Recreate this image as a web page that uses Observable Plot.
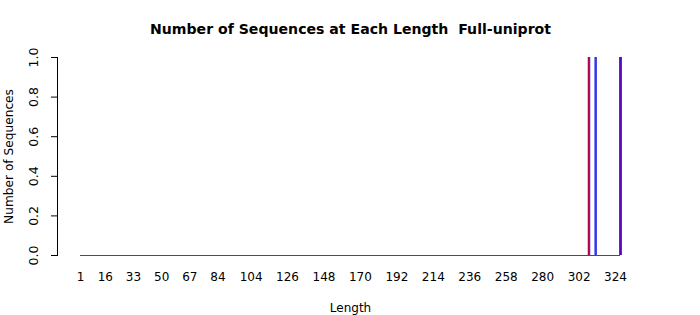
<!DOCTYPE html>
<html>
<head>
<meta charset="utf-8">
<script src="https://cdn.jsdelivr.net/npm/d3@7"></script>
<script src="https://cdn.jsdelivr.net/npm/@observablehq/plot@0.6"></script>
<style>
  html, body { margin: 0; padding: 0; background: #fff; }
  svg { font-family: "DejaVu Sans", sans-serif; }
</style>
</head>
<body>
<div id="chart"></div>
<script>
const titleText = "Number of Sequences at Each Length  Full-uniprot";
const yLabel = "Number of Sequences";
const xLabel = "Length";
const lengthRange = [1, 327];
const xTickLabels = [1, 16, 33, 50, 67, 84, 104, 126, 148, 170, 192, 214, 236, 258, 280, 302, 324];
const yTicks = [0, 0.2, 0.4, 0.6, 0.8, 1.0];
// series 1 (blue): lengths with one sequence
const blueLengths = [308, 312, 327];
const blueCounts = [1, 1, 1];
// series 2 (red): lengths with one sequence
const redLengths = [308, 327];
const redCounts = [1, 1];

const blueData = blueLengths.map((x, i) => ({x, y: blueCounts[i]}));
const redData = redLengths.map((x, i) => ({x, y: redCounts[i]}));

const chart = Plot.plot({
  width: 700,
  height: 315,
  marginTop: 57,
  marginBottom: 60,
  marginLeft: 57,
  marginRight: 80,
  style: {fontFamily: "DejaVu Sans, sans-serif", fontSize: "12px", background: "#fff", color: "#000"},
  x: {domain: lengthRange, insetLeft: 23},
  y: {domain: [0, 1]},
  marks: [
    Plot.frame({anchor: "left", stroke: "#000"}),
    Plot.axisY({ticks: yTicks, tickFormat: d3.format(".1f"), tickSize: 6, tickPadding: 14, tickRotate: -90, fontSize: 12.5, label: null}),
    Plot.axisX({ticks: xTickLabels, tickFormat: d => d, tickSize: 0, tickPadding: 17, fontSize: 12, label: null}),
    Plot.text([yLabel], {frameAnchor: "left", dx: -48, rotate: -90, fontSize: 12.2, fill: "#000", lineAnchor: "middle", textAnchor: "middle"}),
    Plot.text([xLabel], {frameAnchor: "bottom", dx: 11.5, dy: 53, fontSize: 12, fill: "#000", lineAnchor: "middle"}),
    Plot.ruleY([0], {x1: lengthRange[0], x2: lengthRange[1], stroke: "#3b3be0", strokeWidth: 1}),
    Plot.ruleX(blueData, {x: "x", y1: 0, y2: "y", stroke: "#3535ee", strokeWidth: 2.5}),
    Plot.ruleX(redData.slice(0, 1), {x: "x", y1: 0, y2: "y", dx: -0.5, stroke: "#c00030", strokeWidth: 1.2, strokeOpacity: 0.9}),
    Plot.ruleX(redData.slice(1), {x: "x", y1: 0, y2: "y", stroke: "#5a00b4", strokeWidth: 2.5, strokeOpacity: 0.85}),
    Plot.text([titleText], {frameAnchor: "top", dx: 11.5, dy: -28, lineAnchor: "middle", fontWeight: "bold", fontSize: 14.1, fill: "#000"})
  ]
});
document.getElementById("chart").appendChild(chart);
</script>
</body>
</html>
